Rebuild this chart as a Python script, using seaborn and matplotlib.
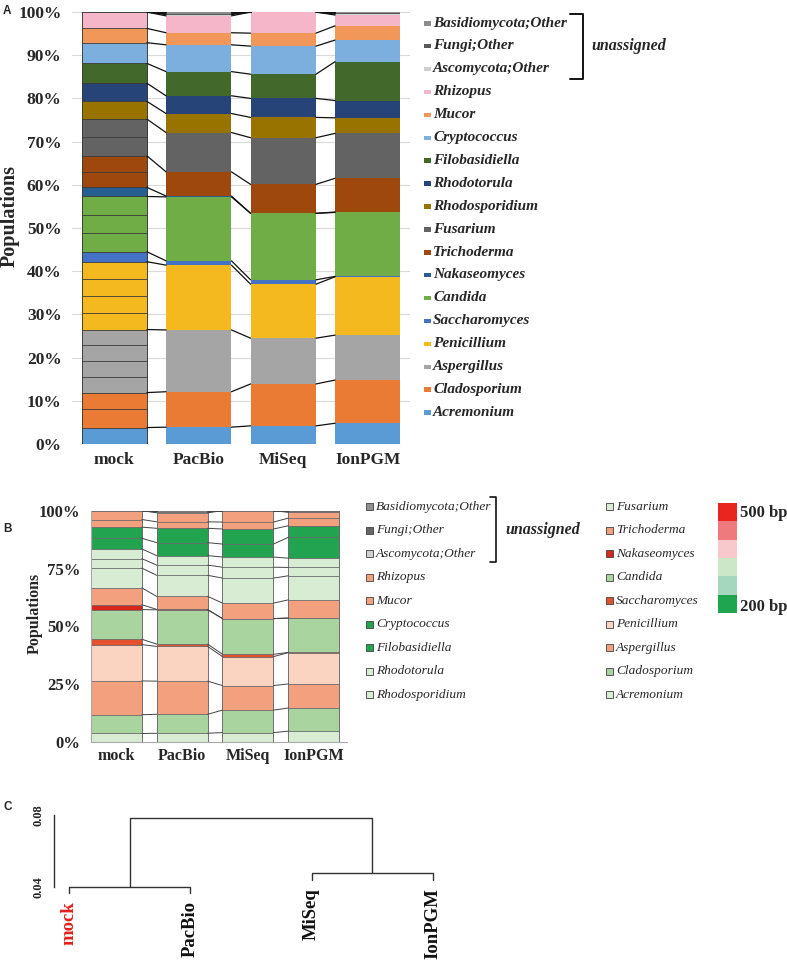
import matplotlib
matplotlib.use("Agg")
import matplotlib.pyplot as plt
from matplotlib.patches import Rectangle
import numpy as np
import pandas as pd
import seaborn as sns

samples = ['mock', 'PacBio', 'MiSeq', 'IonPGM']
# bottom -> top of the stacks
genera = ['Acremonium', 'Cladosporium', 'Aspergillus', 'Penicillium', 'Saccharomyces',
          'Candida', 'Nakaseomyces', 'Trichoderma', 'Fusarium', 'Rhodosporidium',
          'Rhodotorula', 'Filobasidiella', 'Cryptococcus', 'Mucor', 'Rhizopus',
          'Ascomycota;Other', 'Fungi;Other', 'Basidiomycota;Other']

mock = [3.8, 8.1, 14.6, 15.7, 2.3, 12.8, 2.1, 7.3, 8.5, 4.1, 4.2, 4.6, 4.8, 3.3, 3.8, 0, 0, 0]
pacbio = [3.9, 8.2, 14.3, 15.0, 1.0, 14.8, 0.2, 5.6, 9.1, 4.4, 4.1, 5.6, 6.2, 2.8, 3.9, 0.3, 0.2, 0.4]
miseq = [4.2, 9.7, 10.6, 12.5, 1.0, 15.4, 0.0, 6.7, 10.8, 4.7, 4.4, 5.6, 6.5, 3.0, 4.9, 0, 0, 0]
ionpgm = [4.8, 10.0, 10.4, 13.5, 0.1, 14.8, 0.1, 7.8, 10.4, 3.6, 4.0, 9.0, 5.0, 3.3, 2.5, 0.2, 0.2, 0.3]

# species boundaries inside the mock bar (panel A)
mock_species_lines = [8.0, 15.6, 19.1, 22.9, 30.4, 34.3, 38.3, 48.9, 53.0, 63.0, 71.0]

colors_a = ['#5b9bd5', '#e97b35', '#a5a5a5', '#f4b91f', '#4472c4', '#70ad47', '#255e91',
            '#9e480e', '#636363', '#997300', '#264478', '#43682b', '#7cafdd', '#f1975a',
            '#f4b6c8', '#cfcfcf', '#595959', '#8c8c8c']
colors_b = ['#d8ecd3', '#a9d4a0', '#f3a07f', '#fbd3c1', '#e4512f', '#a9d4a0', '#d9261c',
            '#f3a07f', '#d8ecd3', '#d8ecd3', '#d8ecd3', '#22a34f', '#22a34f', '#f3a07f',
            '#f3a07f', '#cfcfcf', '#666666', '#8f8f8f']

# amplicon length scale (top = 500 bp)
scale_colors = ['#e8251f', '#ee7a7e', '#f8c9cc', '#cce7c8', '#a4d7be', '#1fa450']

# dendrogram (panel C)
leaves = ['mock', 'PacBio', 'MiSeq', 'IonPGM']
merges = [(0, 1), (2, 3), (4, 5)]
merge_heights = [0.0401, 0.0474, 0.0781]

df = pd.DataFrame({'mock': mock, 'PacBio': pacbio, 'MiSeq': miseq, 'IonPGM': ionpgm}, index=genera)
cum = df.cumsum()

sns.set_style('white')
plt.rcParams['font.family'] = ['Liberation Serif', 'DejaVu Serif']

fig = plt.figure(figsize=(7.87, 9.6), dpi=100)
W, H = 787.0, 960.0


def axes_px(x0, y0, x1, y1):
    return fig.add_axes([x0 / W, 1 - y1 / H, (x1 - x0) / W, (y1 - y0) / H])


def stacked(ax, colors, width, edge, lw):
    for g, c in reversed(list(zip(genera, colors))):
        sns.barplot(x=samples, y=cum.loc[g].values, color=c, width=width, saturation=1,
                    edgecolor=edge, linewidth=lw, ax=ax, zorder=2)


def connectors(ax, width, color, lw):
    half = width / 2
    for g in genera:
        v = cum.loc[g].values
        for i in range(len(samples) - 1):
            ax.plot([i + half, i + 1 - half], [v[i], v[i + 1]], color=color, lw=lw, zorder=3)


# ---------------- panel A ----------------
wa = 0.774
axA = axes_px(72, 12, 410, 444)
stacked(axA, colors_a, wa, 'none', 0)
for bc in axA.containers:
    bc[0].set_edgecolor('#3a3a3a')
    bc[0].set_linewidth(0.6)
axA.hlines(mock_species_lines, -wa / 2, wa / 2, colors='#3a3a3a', lw=0.6, zorder=3)
connectors(axA, wa, '#111111', 0.9)
axA.set_xlim(-0.5, 3.5)
axA.set_ylim(0, 100)
axA.set_yticks(range(0, 101, 10))
axA.set_yticklabels([f'{v}%' for v in range(0, 101, 10)])
axA.yaxis.grid(True, color='#d9d9d9', lw=0.8)
axA.set_axisbelow(True)
sns.despine(ax=axA, left=True, bottom=True)
axA.tick_params(length=0, labelsize=12.5)
axA.tick_params(axis='y', pad=7.5)
axA.tick_params(axis='x', pad=6)
for lab in axA.get_xticklabels() + axA.get_yticklabels():
    lab.set_fontweight('bold')
axA.set_ylabel('Populations', fontsize=14.5, fontweight='bold')
axA.yaxis.set_label_coords((20 - 72) / 338, 0.528)

# ---------------- panel B ----------------
wb = 0.775
axB = axes_px(90.7, 510.7, 346.7, 742.3)
stacked(axB, colors_b, wb, '#6b6b6b', 0.6)
connectors(axB, wb, '#444444', 0.7)
axB.set_xlim(-0.39, 3.5)
axB.set_ylim(0, 100)
axB.set_yticks(range(0, 101, 25))
axB.set_yticklabels([f'{v}%' for v in range(0, 101, 25)])
sns.despine(ax=axB)
for s in ('left', 'bottom'):
    axB.spines[s].set_color('#a8a8a8')
    axB.spines[s].set_linewidth(0.8)
axB.tick_params(axis='y', length=4, width=0.8, color='#a8a8a8', pad=3.5, labelsize=12)
axB.tick_params(axis='x', length=0, pad=4, labelsize=11.5)
for lab in axB.get_xticklabels() + axB.get_yticklabels():
    lab.set_fontweight('bold')
axB.set_ylabel('Populations', fontsize=11.5, fontweight='bold')
axB.yaxis.set_label_coords((43 - 90.7) / 256, 0.556)

# ---------------- panel C ----------------
axC = axes_px(54, 800, 460, 955)
hang = 0.1 * (max(merge_heights) - min(merge_heights))
node_x = {i: i + 1 for i in range(len(leaves))}
node_y = {}
leaf_end = {}
for k, ((a, b), h) in enumerate(zip(merges, merge_heights)):
    ya = node_y.get(a, h - hang)
    yb = node_y.get(b, h - hang)
    axC.plot([node_x[a], node_x[a], node_x[b], node_x[b]], [ya, h, h, yb],
             color='#333333', lw=1)
    for n in (a, b):
        if n < len(leaves):
            leaf_end[n] = h - hang
    node_x[len(leaves) + k] = (node_x[a] + node_x[b]) / 2
    node_y[len(leaves) + k] = h
for i, name in enumerate(leaves):
    axC.annotate(name, xy=(node_x[i], leaf_end[i]), xytext=(0, -5.5), textcoords='offset points',
                 rotation=90, ha='center', va='top', fontsize=13.5, fontweight='bold',
                 color='#e3201b' if name == 'mock' else '#111111', annotation_clip=False)
axC.set_xlim(1 - 15 / 121.3, 1 + (460 - 69) / 121.3)
axC.set_ylim(0.04 - (955 - 886.7) / 1792, 0.08 + (815 - 800) / 1792)
axC.set_xticks([])
yt = np.round(np.arange(0.04, 0.0801, 0.01), 2)
axC.set_yticks(yt)
axC.set_yticklabels(['0.04', '', '', '', '0.08'])
sns.despine(ax=axC, bottom=True)
axC.spines['left'].set_bounds(0.04, 0.08)
axC.spines['left'].set_color('#333333')
axC.spines['left'].set_linewidth(1)
axC.tick_params(axis='y', length=4, width=1, color='#333333', pad=3, labelsize=9)
for lab in axC.get_yticklabels():
    lab.set_rotation(90)
    lab.set_va('center')
    lab.set_fontweight('bold')
axC.patch.set_alpha(0)

# ---------------- legends / annotations (pixel overlay) ----------------
ov = fig.add_axes([0, 0, 1, 1])
ov.set_xlim(0, W)
ov.set_ylim(H, 0)
ov.axis('off')
ov.patch.set_alpha(0)

legend_order = list(reversed(genera))
cmap_a = dict(zip(genera, colors_a))
cmap_b = dict(zip(genera, colors_b))

# panel A legend
for i, g in enumerate(legend_order):
    y = 23 + 22.9 * i
    ov.add_patch(Rectangle((424, y - 2), 7, 4.5, color=cmap_a[g], lw=0))
    ov.text(433, y, g, fontsize=11, fontweight='bold', fontstyle='italic', va='center', ha='left')
ov.plot([570, 583.3, 583.3, 570], [14, 14, 78.7, 78.7], color='#111111', lw=1.4)
ov.text(591, 46, 'unassigned', fontsize=11.5, fontweight='bold', fontstyle='italic',
        va='center', ha='left')

# panel B legend
for i, g in enumerate(legend_order):
    col, row = divmod(i, 9)
    y = 506.7 + 23.5 * row
    mx, tx = (366, 376) if col == 0 else (605.5, 616)
    ov.add_patch(Rectangle((mx, y - 3.5), 7, 7, facecolor=cmap_b[g], edgecolor='#404040', lw=0.6))
    ov.text(tx, y, g, fontsize=9.6, fontstyle='italic', va='center', ha='left')
ov.plot([490, 496, 496, 490], [497, 497, 562, 562], color='#111111', lw=1.2)
ov.text(505, 530, 'unassigned', fontsize=11.5, fontweight='bold', fontstyle='italic',
        va='center', ha='left')

# amplicon length scale
step = (613 - 503) / len(scale_colors)
for i, c in enumerate(scale_colors):
    ov.add_patch(Rectangle((718, 503 + i * step), 19, step, color=c, lw=0))
ov.text(740, 513, '500 bp', fontsize=12, fontweight='bold', va='center', ha='left')
ov.text(740, 607, '200 bp', fontsize=12, fontweight='bold', va='center', ha='left')

# panel letters
for letter, y in (('A', 11), ('B', 529), ('C', 807)):
    ov.text(3, y, letter, fontsize=8.5, fontweight='bold', family=['Liberation Sans', 'DejaVu Sans'],
            va='center', ha='left')

fig.savefig('out.png', dpi=100)
